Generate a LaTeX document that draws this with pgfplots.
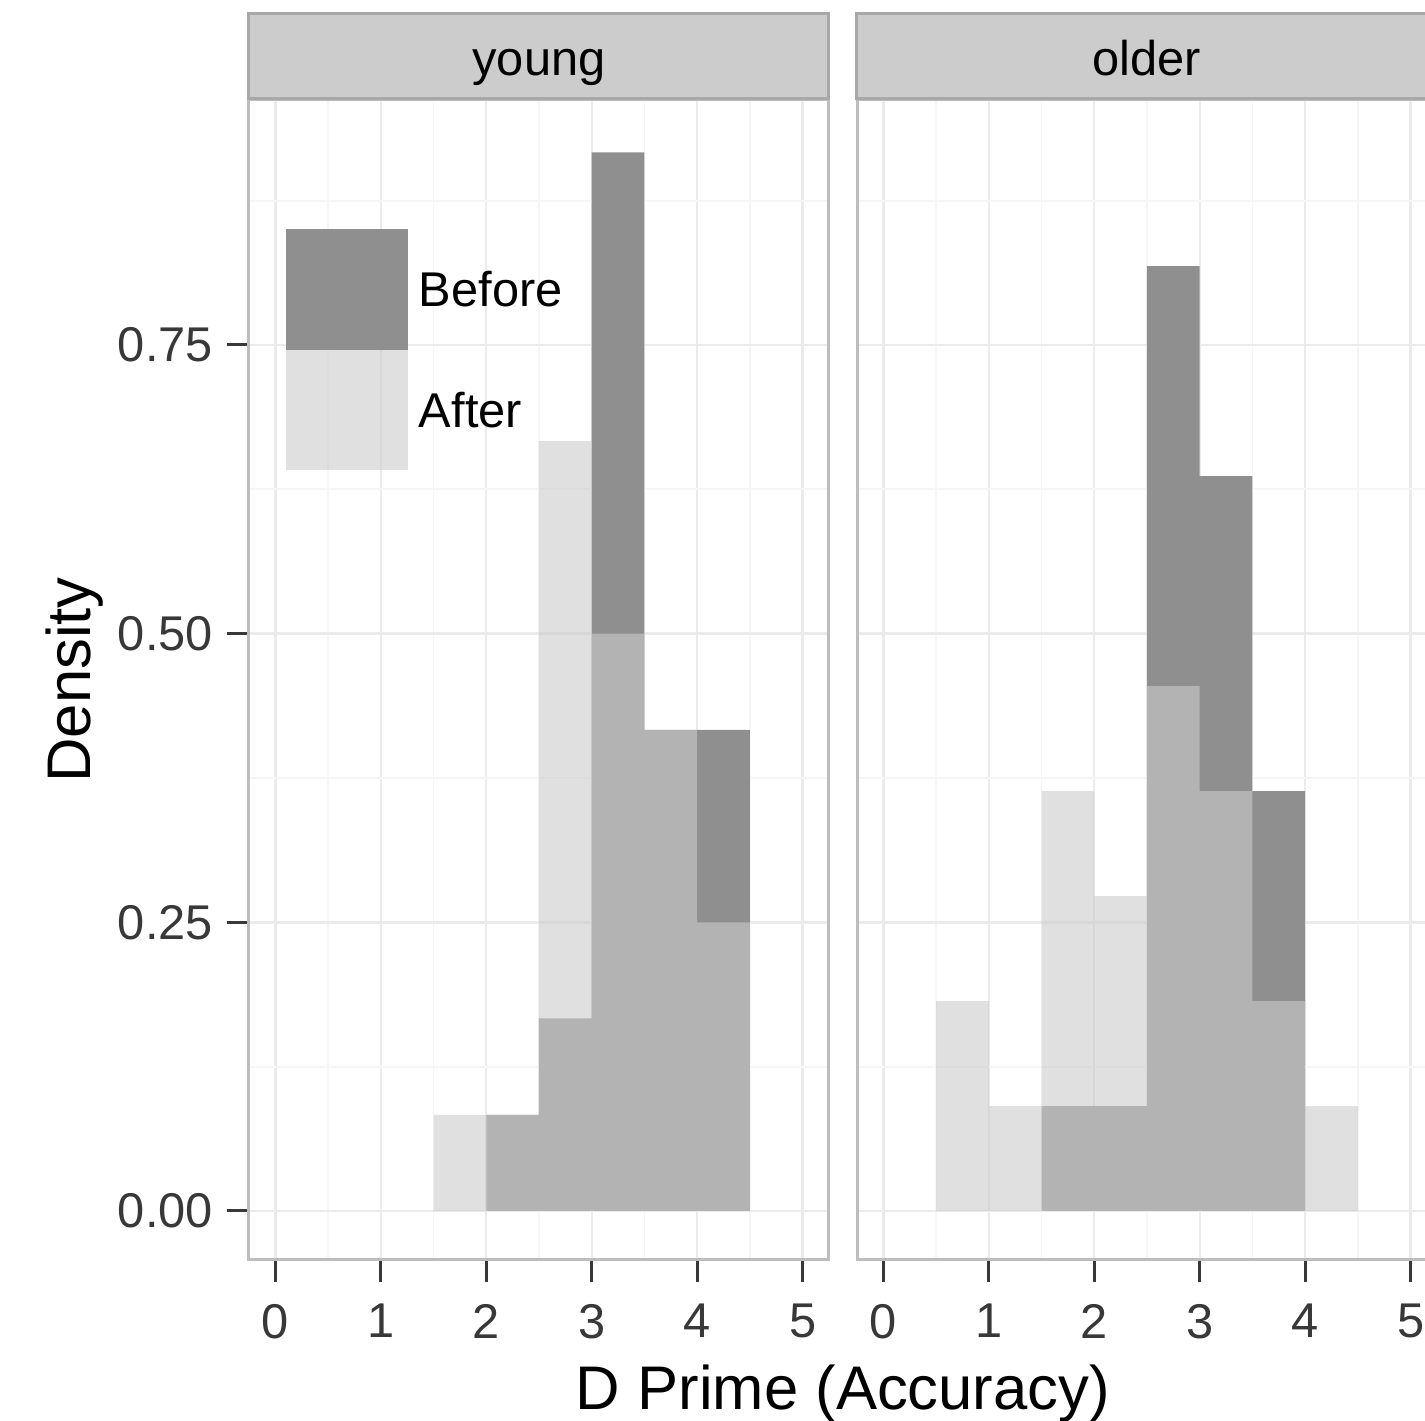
\documentclass[border=0pt]{standalone}
\usepackage{pgfplots}
\pgfplotsset{compat=1.18}
\usepackage{fontspec}
\setmainfont{Liberation Sans}
\definecolor{beforec}{HTML}{8F8F8F}
\definecolor{afterc}{HTML}{CBCBCB}
\definecolor{gridmaj}{HTML}{EBEBEB}
\definecolor{gridmin}{HTML}{F6F6F6}
\definecolor{panelborder}{HTML}{BDBDBD}
\definecolor{stripfill}{HTML}{CCCCCC}
\definecolor{stripborder}{HTML}{A8A8A8}
\definecolor{axtext}{HTML}{383838}
\newcommand\smallfont{\fontsize{12.2pt}{14pt}\selectfont}
\newcommand\bigfont{\fontsize{15.4pt}{18pt}\selectfont}

\pgfplotsset{
  facet/.style={
    scale only axis, width=145pt, height=290pt,
    xmin=-0.25, xmax=5.25, ymin=-0.04244, ymax=0.9622,
    xtick={0,1,2,3,4,5}, ytick={0,0.25,0.5,0.75},
    minor xtick={0.5,1.5,2.5,3.5,4.5},
    minor ytick={0.125,0.375,0.625,0.875},
    grid=both,
    major grid style={draw=gridmaj, line width=0.6pt},
    minor grid style={draw=gridmin, line width=0.45pt},
    minor tick length=0pt,
    tick align=outside, major tick length=5.5pt,
    xtick pos=bottom, ytick pos=left,
    tick style={draw=axtext, line width=0.75pt},
    axis line style={draw=panelborder, line width=0.75pt},
    ticklabel style={font=\smallfont, text=axtext},
    xticklabel style={yshift=-2pt},
    /pgf/number format/assume math mode=true,
    yticklabel style={/pgf/number format/.cd, fixed, fixed zerofill, precision=2},
    every axis title/.style={at={(0.5,1)}, anchor=south, fill=stripfill,
      draw=stripborder, line width=0.75pt, minimum width=145pt,
      minimum height=21.25pt, inner sep=0pt, text height=10pt, text depth=0pt,
      font=\smallfont, text=black},
  },
  beforebars/.style={const plot, fill=beforec, draw=none,
    legend image code/.code={\fill[beforec] (0pt,-15.1pt) rectangle (30.5pt,15.1pt);}},
  afterbars/.style={const plot, fill=afterc, fill opacity=0.6, draw=none,
    legend image code/.code={\fill[afterc, fill opacity=0.6] (0pt,-15.1pt) rectangle (30.5pt,15.1pt);}},
}

\begin{document}
\begin{tikzpicture}
% young panel
\begin{axis}[facet, at={(62.25pt,40.25pt)}, anchor=south west,
  title={young},
  xlabel={D Prime (Accuracy)}, ylabel={Density},
  every axis x label/.style={at={(axis description cs:1.0241,-0.1293)}, anchor=base, font=\bigfont, text=black},
  every axis y label/.style={at={(axis description cs:-0.2741,0.5)}, rotate=90, anchor=base, font=\bigfont, text=black},
  legend style={at={(0.062,0.8897)}, anchor=north west, draw=none, fill=none,
    inner sep=0pt, row sep=0pt, column sep=2.8pt, font=\smallfont,
    cells={anchor=west}, nodes={inner sep=0pt, text depth=0pt}},
]
\addplot[beforebars] coordinates {
  (2.0,0) (2.0,0.0833) (2.5,0.1667) (3.0,0.9167) (3.5,0.4167) (4.0,0.4167) (4.5,0.4167) (4.5,0)
};
\addlegendentry{Before}
\addplot[afterbars] coordinates {
  (1.5,0) (1.5,0.0833) (2.0,0.0833) (2.5,0.6667) (3.0,0.5) (3.5,0.4167) (4.0,0.25) (4.5,0.25) (4.5,0)
};
\addlegendentry{After}
\end{axis}
% older panel
\begin{axis}[facet, at={(214.25pt,40.25pt)}, anchor=south west,
  title={older},
  yticklabels={}, ytick style={draw=none},
]
\addplot[beforebars] coordinates {
  (1.5,0) (1.5,0.0909) (2.0,0.0909) (2.5,0.8182) (3.0,0.6364) (3.5,0.3636) (4.0,0.3636) (4.0,0)
};
\addplot[afterbars] coordinates {
  (0.5,0) (0.5,0.1818) (1.0,0.0909) (1.5,0.3636) (2.0,0.2727) (2.5,0.4545) (3.0,0.3636) (3.5,0.1818) (4.0,0.0909) (4.5,0.0909) (4.5,0)
};
\end{axis}
\pgfresetboundingbox
\path[use as bounding box] (0,0) rectangle (356.25pt,355.25pt);
\end{tikzpicture}
\end{document}
